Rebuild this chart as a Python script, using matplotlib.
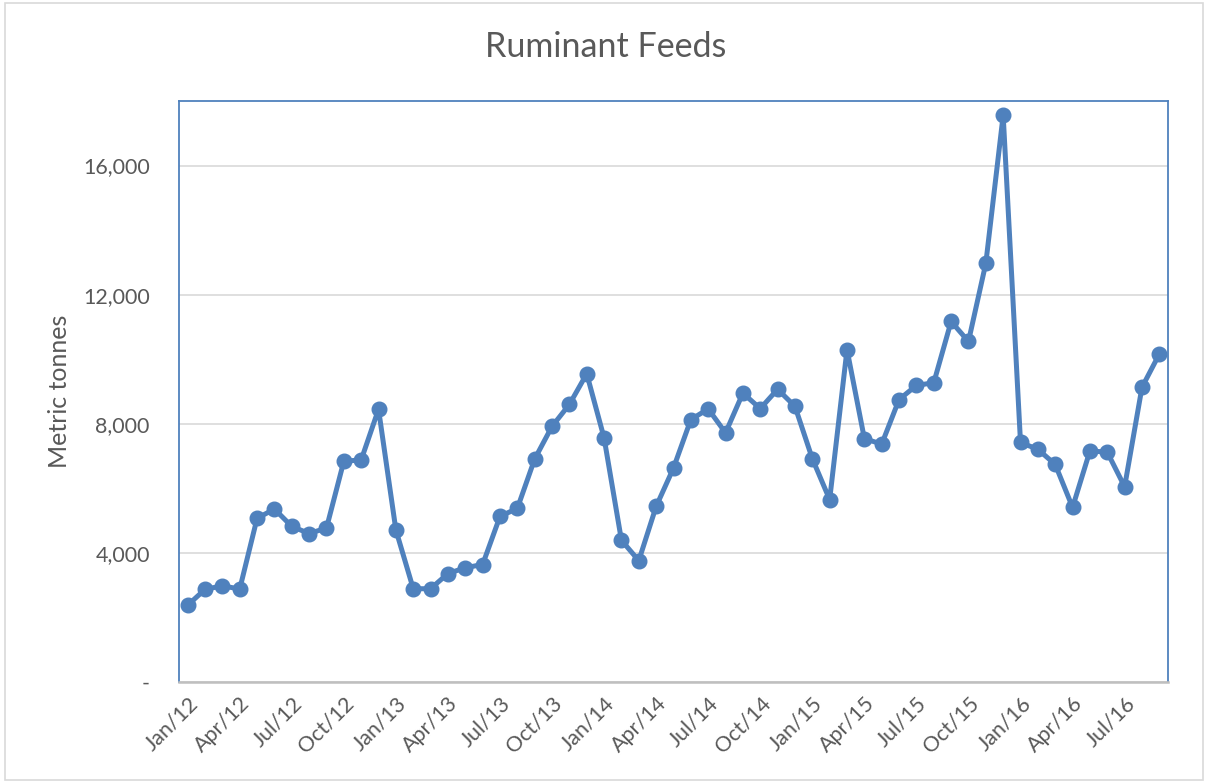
import matplotlib
matplotlib.use("Agg")
import matplotlib.pyplot as plt
from matplotlib.patches import Rectangle
from matplotlib.ticker import FuncFormatter

months = ["Jan", "Feb", "Mar", "Apr", "May", "Jun", "Jul", "Aug", "Sep", "Oct", "Nov", "Dec"]
categories = [f"{m}/{y}" for y in ["12", "13", "14", "15", "16"] for m in months][:57]

values_2012 = [2380, 2870, 2980, 2880, 5070, 5360, 4820, 4600, 4770, 6840, 6880, 8450]
values_2013 = [4710, 2890, 2890, 3360, 3540, 3640, 5130, 5380, 6910, 7920, 8600, 9550]
values_2014 = [7560, 4390, 3760, 5440, 6630, 8130, 8460, 7720, 8950, 8470, 9070, 8540]
values_2015 = [6920, 5650, 10300, 7540, 7370, 8750, 9190, 9270, 11170, 10550, 12970, 17560]
values_2016 = [7420, 7210, 6740, 5410, 7160, 7120, 6050, 9130, 10160]
values = values_2012 + values_2013 + values_2014 + values_2015 + values_2016

y_ticks = [0, 4000, 8000, 12000, 16000]

plt.rcParams['font.family'] = ['Lato', 'DejaVu Sans']

fig = plt.figure(figsize=(12.08, 7.82), dpi=100)
ax = fig.add_axes([179/1208, 1 - 682/782, (1168-179)/1208, (682-101)/782])

line_color = "#4f81bd"
x = list(range(len(values)))
ax.plot(x, values, color=line_color, linewidth=3.6, marker="o", markersize=10.5,
        markerfacecolor=line_color, markeredgecolor=line_color, zorder=3)

ax.set_xlim(-0.5, len(values) - 0.5)
ax.set_ylim(0, 18000)
ax.set_yticks(y_ticks)
ax.yaxis.set_major_formatter(FuncFormatter(lambda v, p: "-" if v == 0 else f"{int(v):,}"))
ax.grid(axis="y", color="#d9d9d9", linewidth=1.2, zorder=0)
ax.set_axisbelow(True)

tick_pos = list(range(0, len(values), 3))
ax.set_xticks(tick_pos)
ax.set_xticklabels([categories[i] for i in tick_pos], rotation=45, ha="right",
                   rotation_mode="anchor", fontsize=15.5, color="#595959")
ax.tick_params(axis="both", length=0, labelsize=15.5, labelcolor="#595959")
ax.tick_params(axis="x", pad=8)
ax.tick_params(axis="y", pad=21)

for side in ["left", "right", "top"]:
    ax.spines[side].set_color(line_color)
    ax.spines[side].set_linewidth(1.3)
ax.spines["bottom"].set_color("#bfbfbf")
ax.spines["bottom"].set_linewidth(1.8)

ax.set_ylabel("Metric tonnes", fontsize=18, color="#595959", labelpad=9)
fig.text(606/1208, 1 - 47/782, "Ruminant Feeds", ha="center", va="center",
         fontsize=24.5, color="#595959")

fig.patches.append(Rectangle((0.004, 0.002), 0.992, 0.994, transform=fig.transFigure,
                             fill=False, edgecolor="#d9d9d9", linewidth=1.2))

fig.savefig("out.png", dpi=100, facecolor="white")
